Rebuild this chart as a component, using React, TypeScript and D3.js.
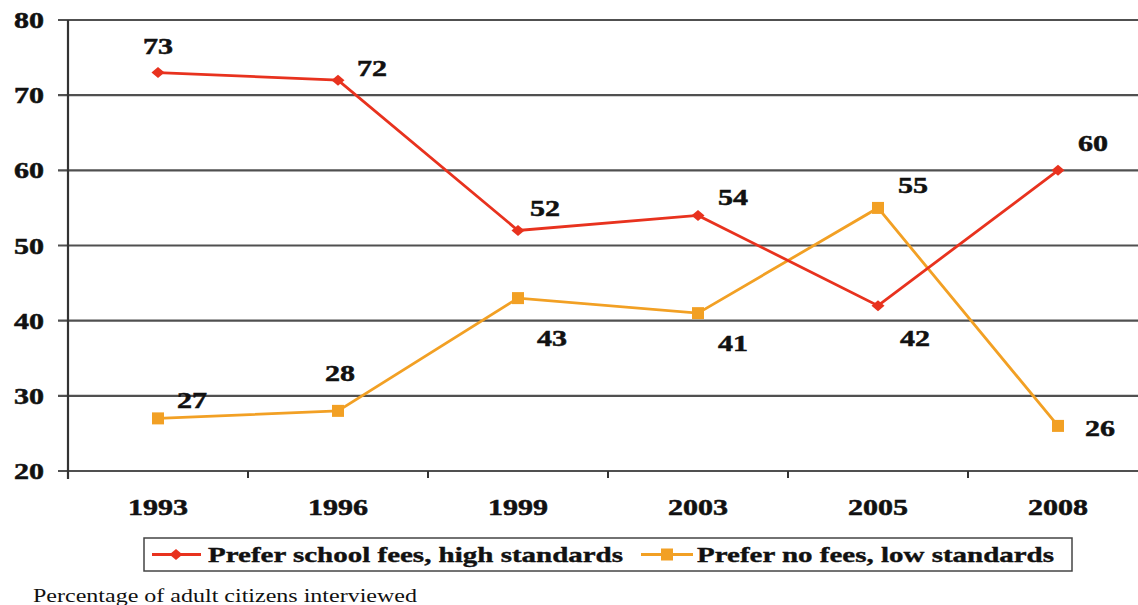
import React from "react";
import * as d3 from "d3";

// Survey years on the category axis
const years = ["1993", "1996", "1999", "2003", "2005", "2008"];
// Share preferring school fees with high standards
const feesHigh = [73, 72, 52, 54, 42, 60];
// Share preferring no fees with low standards
const noFeesLow = [27, 28, 43, 41, 55, 26];
// Value-axis ticks
const yTicks = [20, 30, 40, 50, 60, 70, 80];
const seriesNames = ["Prefer school fees, high standards", "Prefer no fees, low standards"];
const footnote = "Percentage of adult citizens interviewed";

// Label nudges (px) relative to each point
const redLabelOffsets: [number, number][] = [
  [0, -27], [34, -12], [27, -22], [35, -18], [37, 32], [35, -27],
];
const orangeLabelOffsets: [number, number][] = [
  [34, -18], [2, -38], [34, 40], [35, 30], [35, -23], [42, 2],
];

const W = 1138;
const H = 605;
const RED = "#e8321e";
const ORANGE = "#f2a024";
const GRID = "#505050";
const FONT = '"Liberation Serif", "Times New Roman", Tinos, "DejaVu Serif", serif';
const INK = "#111";

export default function App() {
  const x = d3.scaleBand<string>().domain(years).range([68, 1148]).padding(0);
  const y = d3.scaleLinear().domain([20, 80]).range([471, 20]);
  const cx = (yr: string) => (x(yr) as number) + x.bandwidth() / 2;

  const line = d3
    .line<number>()
    .x((_, i) => cx(years[i]))
    .y((v) => y(v));

  const numW = (s: string) => s.length * 15;

  const diamond = (px: number, py: number, w = 6.5, h = 5.5) =>
    `M${px},${py - h}L${px + w},${py}L${px},${py + h}L${px - w},${py}Z`;

  const txt: React.CSSProperties = { fontFamily: FONT, fontWeight: 700 };

  const label = (v: number, i: number, off: [number, number], key: string) => {
    const px = cx(years[i]) + off[0];
    const py = y(v) + off[1] + 8;
    const s = String(v);
    return (
      <text
        key={key}
        x={px - numW(s) / 2}
        y={py}
        textLength={numW(s)}
        lengthAdjust="spacingAndGlyphs"
        fontSize={23}
        style={txt}
        fill={INK}
        stroke={INK}
        strokeWidth={0.5}
      >
        {s}
      </text>
    );
  };

  const xTickBounds = years.slice(1).map((yr) => x(yr) as number);

  return (
    <svg
      width={W}
      height={H}
      style={{ position: "absolute", left: 0, top: 0, background: "#fff", fontFamily: FONT }}
    >
      <rect width={W} height={H} fill="#fff" />
      {/* horizontal gridlines and tick marks */}
      {yTicks.map((t) => (
        <g key={t}>
          <line x1={58} x2={W} y1={y(t)} y2={y(t)} stroke={GRID} strokeWidth={2.2} />
          <text
            x={44 - numW(String(t))}
            y={y(t) + 8}
            textLength={numW(String(t))}
            lengthAdjust="spacingAndGlyphs"
            fontSize={23}
            style={txt}
            fill={INK}
            stroke={INK}
            strokeWidth={0.5}
          >
            {t}
          </text>
        </g>
      ))}
      {/* value axis */}
      <line x1={68} x2={68} y1={y(80)} y2={y(20) + 8} stroke="#333" strokeWidth={2.2} />
      {/* category tick marks between bands */}
      {xTickBounds.map((bx, i) => (
        <line key={i} x1={bx} x2={bx} y1={y(20)} y2={y(20) + 7} stroke="#333" strokeWidth={2} />
      ))}
      {years.map((yr) => (
        <text
          key={yr}
          x={cx(yr) - 30}
          y={515}
          textLength={60}
          lengthAdjust="spacingAndGlyphs"
          fontSize={23}
          style={txt}
          fill={INK}
          stroke={INK}
          strokeWidth={0.5}
        >
          {yr}
        </text>
      ))}

      {/* series lines */}
      <path d={line(noFeesLow) || ""} fill="none" stroke={ORANGE} strokeWidth={2.8} />
      <path d={line(feesHigh) || ""} fill="none" stroke={RED} strokeWidth={2.8} />

      {noFeesLow.map((v, i) => (
        <rect key={i} x={cx(years[i]) - 6} y={y(v) - 6} width={12} height={12} fill={ORANGE} />
      ))}
      {feesHigh.map((v, i) => (
        <path key={i} d={diamond(cx(years[i]), y(v))} fill={RED} />
      ))}

      {feesHigh.map((v, i) => label(v, i, redLabelOffsets[i], `r${i}`))}
      {noFeesLow.map((v, i) => label(v, i, orangeLabelOffsets[i], `o${i}`))}

      {/* legend */}
      <rect x={144} y={538} width={928} height={33} fill="#fff" stroke="#444" strokeWidth={1.5} />
      <line x1={152} x2={201} y1={554.5} y2={554.5} stroke={RED} strokeWidth={2.8} />
      <path d={diamond(176, 554.5)} fill={RED} />
      <text
        x={208}
        y={562}
        textLength={415}
        lengthAdjust="spacingAndGlyphs"
        fontSize={22}
        style={txt}
        fill={INK}
        stroke={INK}
        strokeWidth={0.4}
      >
        {seriesNames[0]}
      </text>
      <line x1={641} x2={693} y1={554.5} y2={554.5} stroke={ORANGE} strokeWidth={2.8} />
      <rect x={661} y={548.5} width={12} height={12} fill={ORANGE} />
      <text
        x={697}
        y={562}
        textLength={357}
        lengthAdjust="spacingAndGlyphs"
        fontSize={22}
        style={txt}
        fill={INK}
        stroke={INK}
        strokeWidth={0.4}
      >
        {seriesNames[1]}
      </text>

      <text
        x={33}
        y={602}
        textLength={384}
        lengthAdjust="spacingAndGlyphs"
        fontSize={19}
        style={{ fontFamily: FONT, fontWeight: 400 }}
        fill={INK}
      >
        {footnote}
      </text>
    </svg>
  );
}
